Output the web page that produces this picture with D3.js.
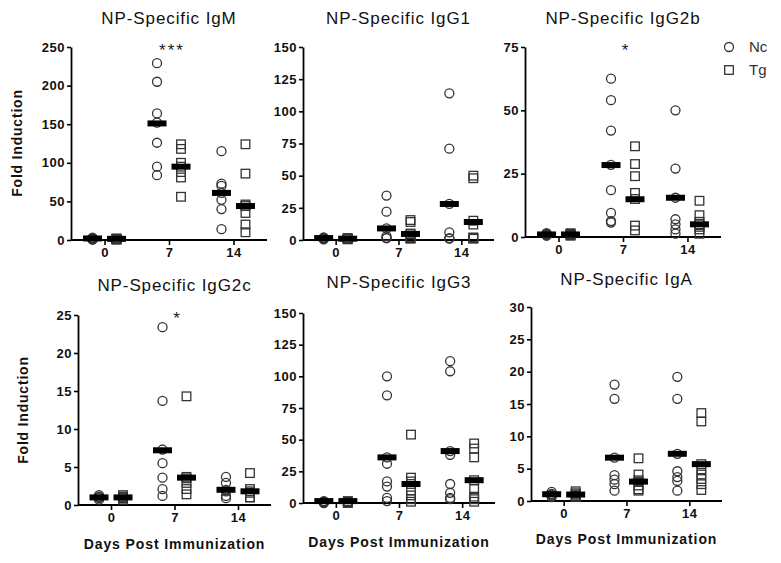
<!DOCTYPE html>
<html><head><meta charset="utf-8">
<script src="https://cdn.jsdelivr.net/npm/d3@7"></script>
<style>body{margin:0;background:#fff} svg{display:block}</style>
</head><body>
<svg id="chart" width="781" height="563"></svg>
<script>
// ---------------- DATA ----------------
const days = ["0", "7", "14"];
const groupNames = ["Nc", "Tg"];
const panelTitles = ["NP-Specific IgM", "NP-Specific IgG1", "NP-Specific IgG2b",
                     "NP-Specific IgG2c", "NP-Specific IgG3", "NP-Specific IgA"];
const yMaxes = [250, 150, 75, 25, 150, 30];
const yTickSteps = [50, 25, 25, 5, 25, 5];
const significance = ["***", "", "*", "*", "", ""];   // day 7 marks
const xAxisTitle = "Days Post Immunization";
const yAxisTitle = "Fold Induction";

// values per day (0, 7, 14)
const igmNc = [[3, 2, 1.5, 1, 1, 0.5], [229, 205, 164, 152, 126, 95, 84], [115, 73, 70, 61, 52, 40, 14]];
const igmTg = [[2, 1.5, 1, 1, 0.5], [124, 118, 100, 95, 88, 81, 56], [124, 86, 46, 44, 35, 20, 10]];
const igmNcMedian = [2, 151, 61];
const igmTgMedian = [1.5, 95, 44];

const igg1Nc = [[2, 1.5, 1, 1, 0.5], [34.5, 22, 9, 3, 1.5, 1.5], [114, 71, 28, 6, 1.5, 1]];
const igg1Tg = [[1.5, 1, 1, 0.5], [15.5, 14, 5, 4.5, 2, 1.5, 1], [50, 48, 15, 12, 2, 1.5, 1]];
const igg1NcMedian = [1.5, 9, 28];
const igg1TgMedian = [1, 4.7, 14];

const igg2bNc = [[1.5, 1.2, 1, 0.8, 0.5], [62.5, 54, 42, 28.5, 18.5, 9.5, 6.3, 5.7], [50, 27, 15.5, 7, 5, 3, 1.3]];
const igg2bTg = [[1.5, 1.2, 1, 0.8, 0.5], [35.8, 28.8, 24, 17.4, 15, 4.5, 2.6], [14.3, 8.6, 6, 5, 4, 3, 1.3]];
const igg2bNcMedian = [1, 28.4, 15.5];
const igg2bTgMedian = [1, 14.9, 5];

const igg2cNc = [[1.3, 1.1, 1, 0.9, 0.7], [23.4, 13.7, 7.3, 5.5, 3.6, 2.1, 1.2], [3.7, 2.9, 2, 1.8, 1.2, 0.9]];
const igg2cTg = [[1.3, 1.1, 1, 0.9, 0.7], [14.3, 3.7, 3.5, 2.9, 2.1, 1.4], [4.2, 2.1, 1.8, 1.6, 1, 1]];
const igg2cNcMedian = [1, 7.2, 2];
const igg2cTgMedian = [1, 3.6, 1.8];

const igg3Nc = [[1.5, 1, 0.5, 0], [100, 85, 36, 31, 17, 13, 4, 1.5], [112, 104, 41, 38, 15, 8, 4, 3]];
const igg3Tg = [[1.5, 1, 0.5, 0], [54, 20, 17, 15, 10, 6, 3, 1], [47, 43, 36, 18, 11, 5, 3, 1]];
const igg3NcMedian = [1.5, 36, 41];
const igg3TgMedian = [1.5, 15, 18];

const igaNc = [[1.4, 1.1, 1, 0.8, 0.6], [18, 15.8, 6.7, 4, 3.3, 2.6, 1.6], [19.2, 15.8, 7.3, 4.6, 3.7, 3.1, 1.6]];
const igaTg = [[1.5, 1.2, 1, 0.8, 0.6], [6.6, 4.1, 3.2, 3, 2.4, 1.8, 1.6], [13.6, 12.3, 5.7, 4.9, 4.1, 3.4, 2.6, 1.7]];
const igaNcMedian = [1.05, 6.7, 7.3];
const igaTgMedian = [1, 3, 5.7];

const panelValues = [
  [igmNc, igmTg, igmNcMedian, igmTgMedian],
  [igg1Nc, igg1Tg, igg1NcMedian, igg1TgMedian],
  [igg2bNc, igg2bTg, igg2bNcMedian, igg2bTgMedian],
  [igg2cNc, igg2cTg, igg2cNcMedian, igg2cTgMedian],
  [igg3Nc, igg3Tg, igg3NcMedian, igg3TgMedian],
  [igaNc, igaTg, igaNcMedian, igaTgMedian]
];

// ---------------- LAYOUT ----------------
const layout = [
  {x0: 71,  x1: 267, yTop: 47,  y0: 240, titleY: 24,  yLab: [22, 143], xLabY: null},
  {x0: 303, x1: 494, yTop: 47,  y0: 240, titleY: 24,  yLab: null,      xLabY: null},
  {x0: 525, x1: 721, yTop: 47,  y0: 237, titleY: 24,  yLab: null,      xLabY: null},
  {x0: 78,  x1: 271, yTop: 315, y0: 505, titleY: 291, yLab: [28, 410], xLabY: 549},
  {x0: 303, x1: 495, yTop: 313, y0: 503, titleY: 288, yLab: null,      xLabY: 547},
  {x0: 531, x1: 722, yTop: 307, y0: 501, titleY: 285, yLab: null,      xLabY: 544}
];
const groupNudge = 12;
const medianW = 19, medianH = 6;
const circleR = 4.5, squareS = 8.6;
const FONT = "'Liberation Sans', Arial, Helvetica, sans-serif";

const svg = d3.select("#chart");

layout.forEach((L, i) => {
  const g = svg.append("g");
  const x = d3.scalePoint().domain(days).range([L.x0, L.x1]).padding(0.52);
  const y = d3.scaleLinear().domain([0, yMaxes[i]]).range([L.y0, L.yTop]);
  const ticks = d3.range(0, yMaxes[i] + 0.001, yTickSteps[i]);

  // axes
  const yAx = g.append("g").attr("transform", `translate(${L.x0},0)`)
    .call(d3.axisLeft(y).tickValues(ticks).tickSize(4).tickPadding(2).tickSizeOuter(0));
  const xAx = g.append("g").attr("transform", `translate(0,${L.y0})`)
    .call(d3.axisBottom(x).tickSize(5).tickPadding(3).tickSizeOuter(0));
  [yAx, xAx].forEach(a => {
    a.select(".domain").attr("stroke", "#000").attr("stroke-width", 1.8);
    a.selectAll(".tick line").attr("stroke", "#000").attr("stroke-width", 1.6);
    a.selectAll(".tick text").attr("fill", "#111").style("font-family", FONT)
      .style("font-size", "13px").style("font-weight", "bold").style("letter-spacing", "0.5px");
  });
  xAx.select(".domain").attr("d", `M${L.x0},0H${L.x1}`);

  // title
  g.append("text").attr("x", x("7")).attr("y", L.titleY).attr("text-anchor", "middle")
    .style("font-family", FONT).style("font-size", "17px").style("letter-spacing", "0.9px")
    .attr("fill", "#111").text(panelTitles[i]);

  const [nc, tg, ncMed, tgMed] = panelValues[i];

  // points
  days.forEach((d, di) => {
    const cx = x(d) - groupNudge, sx = x(d) + groupNudge;
    g.selectAll(null).data(nc[di]).enter().append("circle")
      .attr("cx", cx).attr("cy", v => y(v)).attr("r", circleR)
      .attr("fill", "none").attr("stroke", "#333").attr("stroke-width", 1.3);
    g.selectAll(null).data(tg[di]).enter().append("rect")
      .attr("x", sx - squareS / 2).attr("y", v => y(v) - squareS / 2)
      .attr("width", squareS).attr("height", squareS)
      .attr("fill", "none").attr("stroke", "#333").attr("stroke-width", 1.3);
  });
  // medians
  days.forEach((d, di) => {
    [[ncMed[di], -groupNudge], [tgMed[di], groupNudge]].forEach(([m, off]) => {
      g.append("rect").attr("x", x(d) + off - medianW / 2).attr("y", y(m) - medianH / 2)
        .attr("width", medianW).attr("height", medianH).attr("fill", "#000");
    });
  });

  // significance
  if (significance[i]) {
    g.append("text").attr("x", x("7") + 3).attr("y", L.yTop + 9).attr("text-anchor", "middle")
      .style("font-family", FONT).style("font-size", "17px").style("letter-spacing", "2px")
      .attr("fill", "#222").text(significance[i]);
  }

  // y label
  if (L.yLab) {
    g.append("text").attr("transform", `translate(${L.yLab[0]},${L.yLab[1]}) rotate(-90)`)
      .attr("text-anchor", "middle").style("font-family", FONT).style("font-size", "14px")
      .style("font-weight", "bold").style("letter-spacing", "0.8px").attr("fill", "#111")
      .text(yAxisTitle);
  }
  // x label
  if (L.xLabY) {
    g.append("text").attr("x", x("7")).attr("y", L.xLabY).attr("text-anchor", "middle")
      .style("font-family", FONT).style("font-size", "14px").style("font-weight", "bold")
      .style("letter-spacing", "0.9px").attr("fill", "#111").text(xAxisTitle);
  }
});

// legend
const legend = svg.append("g");
const legY = [47, 70];
groupNames.forEach((name, k) => {
  if (k === 0) {
    legend.append("circle").attr("cx", 729).attr("cy", legY[k]).attr("r", circleR)
      .attr("fill", "none").attr("stroke", "#333").attr("stroke-width", 1.3);
  } else {
    legend.append("rect").attr("x", 729 - squareS / 2).attr("y", legY[k] - squareS / 2)
      .attr("width", squareS).attr("height", squareS)
      .attr("fill", "none").attr("stroke", "#333").attr("stroke-width", 1.3);
  }
  legend.append("text").attr("x", 749).attr("y", legY[k]).attr("dy", "0.36em")
    .style("font-family", FONT).style("font-size", "15px").attr("fill", "#333").text(name);
});
</script>
</body></html>
